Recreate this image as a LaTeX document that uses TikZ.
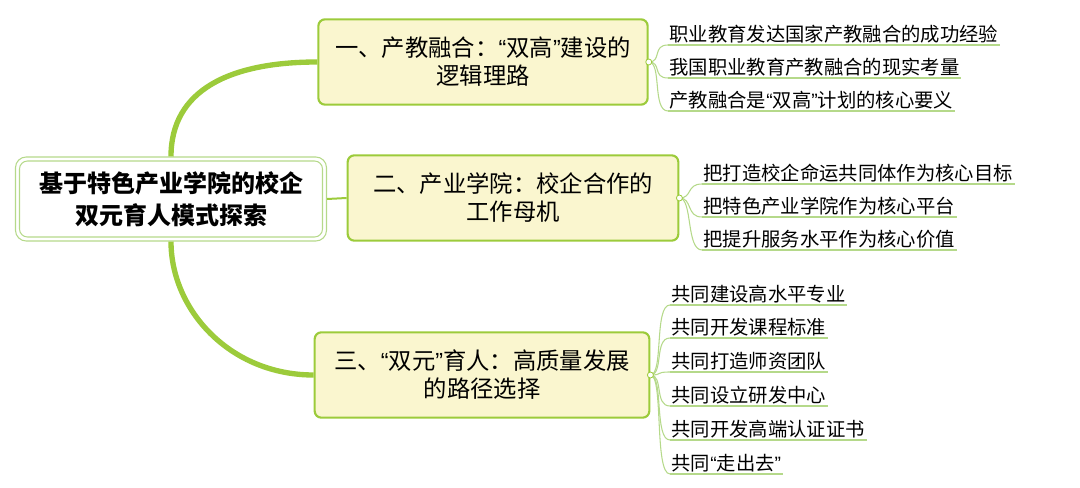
\documentclass[tikz,border=0pt]{standalone}
\usepackage{fontspec}
\setmainfont{Noto Sans CJK SC}
\newfontfamily\lat{Liberation Sans}
\newcommand{\oq}{{\lat “}}
\newcommand{\cq}{{\lat ”}}
\definecolor{gr}{HTML}{9CCB3B}
\definecolor{lgr}{HTML}{B5D98A}
\definecolor{yl}{HTML}{FAF6CF}
\begin{document}
\begin{tikzpicture}[x=0.75pt,y=-0.75pt,
 br/.style={draw=gr,line width=1.6pt,fill=yl,rounded corners=5pt,minimum width=#1,minimum height=64pt,align=center,font=\fontsize{17.5}{21}\selectfont,inner sep=2pt},
 lf/.style={anchor=south west,inner sep=1pt,font=\fontsize{14.5}{17}\selectfont},
 ul/.style={draw=lgr,line width=0.8pt},
 main/.style={draw=gr,line width=4pt}]
\useasboundingbox (0,0) rectangle (1080,488);
\node[draw=lgr,line width=0.8pt,rounded corners=8pt,minimum width=311*0.75pt,minimum height=84*0.75pt] (root) at (171,199) {};
\node[draw=lgr,line width=0.8pt,rounded corners=6pt,minimum width=303*0.75pt,minimum height=76*0.75pt,align=center,font=\bfseries\fontsize{18}{24}\selectfont] (rootin) at (171,199) {基于特色产业学院的校企\\双元育人模式探索};
\node[br=247pt] (b1) at (483,62) {一、产教融合：\oq 双高\cq 建设的\\逻辑理路};
\node[br=248pt] (b2) at (513,198) {二、产业学院：校企合作的\\工作母机};
\node[br=251pt] (b3) at (482,375) {三、\oq 双元\cq 育人：高质量发展\\的路径选择};
\draw[main] (root.north) .. controls (171,90) and (230,62) .. (b1.west);
\draw[main] (root.south) .. controls (171,310) and (230,375) .. (b3.west);
\draw[gr,line width=1.5pt] (root.east) -- (b2.west);
\newcommand{\leaf}[4]{%
 \node[lf] (#1) at (#2) {#3};
 \draw[ul] (#1.south west) -- (#1.south east);
 \draw[ul] (#4.east) .. controls ([xshift=10]#4.east) and ([xshift=-12]#1.south west) .. (#1.south west);}
\leaf{a1}{668,45}{职业教育发达国家产教融合的成功经验}{b1}
\leaf{a2}{668,78}{我国职业教育产教融合的现实考量}{b1}
\leaf{a3}{668,111}{产教融合是\oq 双高\cq 计划的核心要义}{b1}
\leaf{c1}{702,184}{把打造校企命运共同体作为核心目标}{b2}
\leaf{c2}{702,217}{把特色产业学院作为核心平台}{b2}
\leaf{c3}{702,250}{把提升服务水平作为核心价值}{b2}
\leaf{d1}{670,305}{共同建设高水平专业}{b3}
\leaf{d2}{670,338}{共同开发课程标准}{b3}
\leaf{d3}{670,372}{共同打造师资团队}{b3}
\leaf{d4}{670,406}{共同设立研发中心}{b3}
\leaf{d5}{670,440}{共同开发高端认证证书}{b3}
\leaf{d6}{670,474}{共同\oq 走出去\cq}{b3}
\foreach \b in {b1,b2,b3}{\fill[white,draw=gr,line width=0.6pt] (\b.east) circle (3);}
\end{tikzpicture}
\end{document}
